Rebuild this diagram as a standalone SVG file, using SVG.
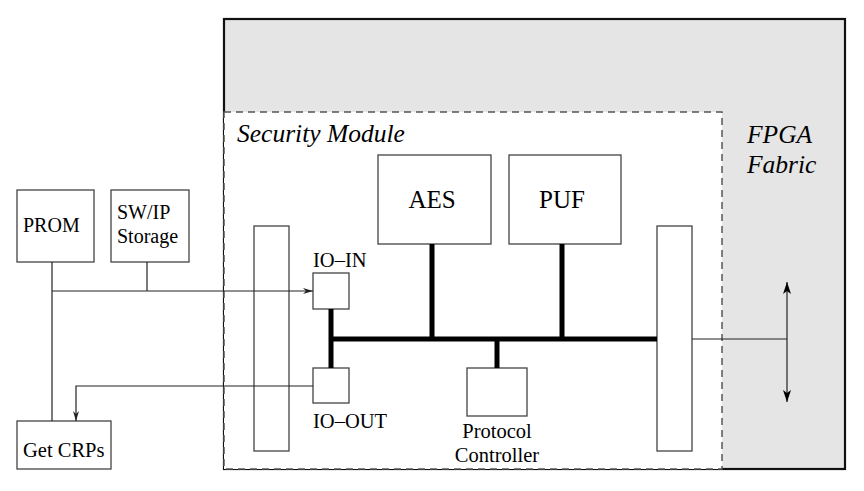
<svg xmlns="http://www.w3.org/2000/svg" width="864" height="491" viewBox="0 0 864 491">
<style>
.box{fill:#fff;stroke:#444;stroke-width:1.3}
.t{font-family:"Liberation Serif",serif;fill:#000}
.it{font-family:"Liberation Serif",serif;font-style:italic;font-size:25.5px;fill:#000}
.thin{fill:none;stroke:#222;stroke-width:1.2}
.bus{fill:none;stroke:#000;stroke-width:5}
</style>
<defs>
<marker id="ah" viewBox="0 0 10 6" refX="10" refY="3" markerWidth="10" markerHeight="6" markerUnits="userSpaceOnUse" orient="auto">
<path d="M0,0 L10,3 L0,6 L3,3 Z" fill="#222"/>
</marker>
<marker id="ahb" viewBox="0 0 12 8" refX="12" refY="4" markerWidth="12" markerHeight="8" markerUnits="userSpaceOnUse" orient="auto-start-reverse">
<path d="M0,0 L12,4 L0,8 L3,4 Z" fill="#000"/>
</marker>
</defs>
<g id="fpga">
<rect x="224" y="19" width="621" height="450" fill="#e5e5e5" stroke="#111" stroke-width="2.2"/>
<text class="it" x="747" y="143">FPGA</text>
<text class="it" x="747" y="173">Fabric</text>
</g>
<g id="security-module">
<rect x="224" y="112" width="498" height="357" fill="#fff" stroke="#555" stroke-width="1.5" stroke-dasharray="7,5"/>
<text class="it" x="237" y="142">Security Module</text>
</g>
<g id="prom">
<rect class="box" x="17" y="190" width="77" height="72"/>
<text class="t" x="23" y="232" font-size="20">PROM</text>
</g>
<g id="swip">
<rect class="box" x="111" y="190" width="78" height="72"/>
<text class="t" x="117" y="219" font-size="20">SW/IP</text>
<text class="t" x="117" y="243" font-size="20">Storage</text>
</g>
<g id="getcrps">
<rect class="box" x="17" y="421" width="94" height="48"/>
<text class="t" x="23" y="457" font-size="20.5">Get CRPs</text>
</g>
<g id="left-bar">
<rect class="box" x="254" y="226" width="35" height="225"/>
</g>
<g id="right-bar">
<rect class="box" x="657" y="226" width="35" height="225"/>
</g>
<g id="io-in">
<rect class="box" x="313" y="273" width="36" height="36"/>
<text class="t" x="313" y="267" font-size="20.5">IO–IN</text>
</g>
<g id="io-out">
<rect class="box" x="313" y="368" width="36" height="35"/>
<text class="t" x="313" y="428" font-size="20.5">IO–OUT</text>
</g>
<g id="aes">
<rect class="box" x="378" y="155" width="113" height="89"/>
<text class="t" x="432" y="208" font-size="25" text-anchor="middle">AES</text>
</g>
<g id="puf">
<rect class="box" x="509" y="155" width="112" height="89"/>
<text class="t" x="562" y="208" font-size="25" text-anchor="middle">PUF</text>
</g>
<g id="protocol">
<rect class="box" x="467" y="368" width="60" height="48"/>
<text class="t" x="497" y="438" font-size="20.5" text-anchor="middle">Protocol</text>
<text class="t" x="497" y="462" font-size="20.5" text-anchor="middle">Controller</text>
</g>
<g id="connectors">
<path class="thin" d="M52,262 V421"/>
<path class="thin" d="M147,262 V291"/>
<path class="thin" d="M52,291 H313" marker-end="url(#ah)"/>
<path class="thin" d="M313,386 H76 V421" marker-end="url(#ah)"/>
<path class="bus" d="M331,309 V368 M331,339 H657 M432,244 V339 M562,244 V339 M497,339 V368"/>
<path class="thin" d="M692,339 H787"/>
<path class="thin" d="M787,282 V402" marker-start="url(#ahb)" marker-end="url(#ahb)"/>
</g>
</svg>
